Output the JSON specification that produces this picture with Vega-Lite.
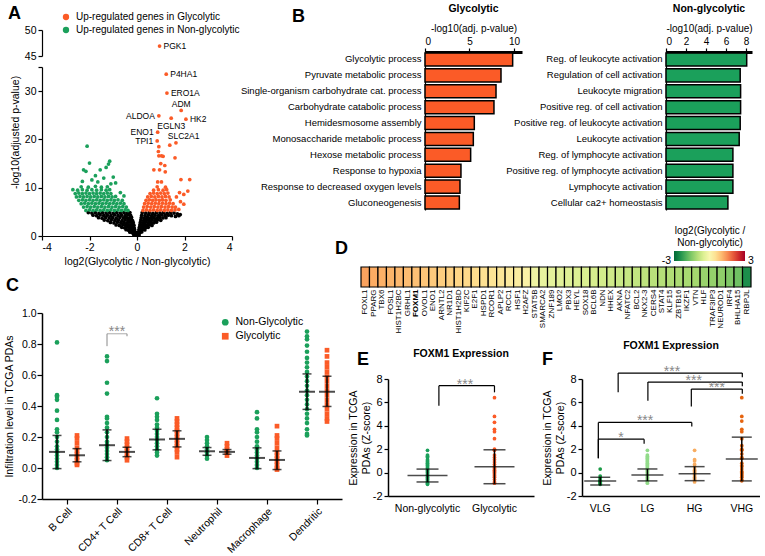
{
"$schema": "https://vega.github.io/schema/vega-lite/v6.json",
"padding": {"left": 4, "top": 3, "right": 0, "bottom": 0},
"config": {
  "view": {"stroke": null},
  "font": "Liberation Sans",
  "axis": {"grid": false, "domainColor": "black", "tickColor": "black", "labelColor": "black", "titleColor": "black", "labelFontSize": 10, "titleFontSize": 10, "titleFontWeight": "normal", "tickSize": 4, "labelPadding": 2, "domainWidth": 1.2, "tickWidth": 1.2, "labelOverlap": false, "labelLimit": 400},
  "legend": {"labelFontSize": 10, "labelColor": "black", "titleColor": "black", "labelLimit": 400},
  "title": {"color": "black"}
},
"datasets": {
  "volc": [
{"fc":-2.05,"lp":4.85,"g":"B"},{"fc":-1.9,"lp":4.75,"g":"B"},{"fc":-1.75,"lp":4.85,"g":"B"},{"fc":-1.6,"lp":4.7,"g":"B"},{"fc":-1.45,"lp":4.85,"g":"B"},{"fc":-1.3,"lp":4.75,"g":"B"},{"fc":-1.15,"lp":4.85,"g":"B"},{"fc":-1.0,"lp":4.7,"g":"B"},{"fc":-0.85,"lp":4.85,"g":"B"},{"fc":-0.7,"lp":4.75,"g":"B"},{"fc":-0.55,"lp":4.85,"g":"B"},{"fc":-0.42,"lp":4.7,"g":"B"},{"fc":-0.3,"lp":4.85,"g":"B"},
{"fc":-1.85,"lp":4.3,"g":"B"},{"fc":-1.7,"lp":4.2,"g":"B"},{"fc":-1.55,"lp":4.35,"g":"B"},{"fc":-1.4,"lp":4.25,"g":"B"},{"fc":-1.25,"lp":4.3,"g":"B"},{"fc":-1.1,"lp":4.2,"g":"B"},{"fc":-0.95,"lp":4.35,"g":"B"},{"fc":-0.8,"lp":4.25,"g":"B"},{"fc":-0.65,"lp":4.3,"g":"B"},{"fc":-0.5,"lp":4.2,"g":"B"},{"fc":-0.38,"lp":4.35,"g":"B"},{"fc":-0.27,"lp":4.25,"g":"B"},
{"fc":-1.62,"lp":3.8,"g":"B"},{"fc":-1.47,"lp":3.7,"g":"B"},{"fc":-1.32,"lp":3.85,"g":"B"},{"fc":-1.17,"lp":3.75,"g":"B"},{"fc":-1.02,"lp":3.8,"g":"B"},{"fc":-0.87,"lp":3.7,"g":"B"},{"fc":-0.72,"lp":3.85,"g":"B"},{"fc":-0.57,"lp":3.75,"g":"B"},{"fc":-0.44,"lp":3.8,"g":"B"},{"fc":-0.32,"lp":3.7,"g":"B"},{"fc":-0.23,"lp":3.85,"g":"B"},
{"fc":-1.38,"lp":3.3,"g":"B"},{"fc":-1.23,"lp":3.2,"g":"B"},{"fc":-1.08,"lp":3.35,"g":"B"},{"fc":-0.93,"lp":3.25,"g":"B"},{"fc":-0.78,"lp":3.3,"g":"B"},{"fc":-0.63,"lp":3.2,"g":"B"},{"fc":-0.5,"lp":3.35,"g":"B"},{"fc":-0.38,"lp":3.25,"g":"B"},{"fc":-0.27,"lp":3.3,"g":"B"},{"fc":-0.19,"lp":3.2,"g":"B"},
{"fc":-1.12,"lp":2.8,"g":"B"},{"fc":-0.97,"lp":2.7,"g":"B"},{"fc":-0.82,"lp":2.85,"g":"B"},{"fc":-0.68,"lp":2.75,"g":"B"},{"fc":-0.55,"lp":2.8,"g":"B"},{"fc":-0.43,"lp":2.7,"g":"B"},{"fc":-0.32,"lp":2.85,"g":"B"},{"fc":-0.22,"lp":2.75,"g":"B"},{"fc":-0.16,"lp":2.8,"g":"B"},
{"fc":-0.88,"lp":2.3,"g":"B"},{"fc":-0.74,"lp":2.2,"g":"B"},{"fc":-0.6,"lp":2.35,"g":"B"},{"fc":-0.48,"lp":2.25,"g":"B"},{"fc":-0.37,"lp":2.3,"g":"B"},{"fc":-0.27,"lp":2.2,"g":"B"},{"fc":-0.18,"lp":2.35,"g":"B"},{"fc":-0.13,"lp":2.25,"g":"B"},
{"fc":-0.64,"lp":1.8,"g":"B"},{"fc":-0.52,"lp":1.7,"g":"B"},{"fc":-0.41,"lp":1.85,"g":"B"},{"fc":-0.31,"lp":1.75,"g":"B"},{"fc":-0.22,"lp":1.8,"g":"B"},{"fc":-0.12,"lp":1.7,"g":"B"},
{"fc":-0.46,"lp":1.3,"g":"B"},{"fc":-0.36,"lp":1.2,"g":"B"},{"fc":-0.27,"lp":1.35,"g":"B"},{"fc":-0.18,"lp":1.25,"g":"B"},{"fc":-0.1,"lp":1.3,"g":"B"},
{"fc":-0.3,"lp":0.8,"g":"B"},{"fc":-0.21,"lp":0.7,"g":"B"},{"fc":-0.13,"lp":0.85,"g":"B"},{"fc":-0.06,"lp":0.75,"g":"B"},
{"fc":-0.14,"lp":0.3,"g":"B"},{"fc":-0.07,"lp":0.2,"g":"B"},{"fc":-0.02,"lp":0.35,"g":"B"},
{"fc":0.22,"lp":4.85,"g":"B"},{"fc":0.37,"lp":4.75,"g":"B"},{"fc":0.52,"lp":4.85,"g":"B"},{"fc":0.67,"lp":4.7,"g":"B"},{"fc":0.82,"lp":4.85,"g":"B"},{"fc":0.97,"lp":4.75,"g":"B"},{"fc":1.12,"lp":4.85,"g":"B"},{"fc":1.27,"lp":4.7,"g":"B"},{"fc":1.42,"lp":4.85,"g":"B"},{"fc":1.56,"lp":4.75,"g":"B"},{"fc":1.7,"lp":4.6,"g":"B"},{"fc":1.82,"lp":4.45,"g":"B"},
{"fc":0.2,"lp":4.3,"g":"B"},{"fc":0.34,"lp":4.2,"g":"B"},{"fc":0.48,"lp":4.35,"g":"B"},{"fc":0.62,"lp":4.25,"g":"B"},{"fc":0.76,"lp":4.3,"g":"B"},{"fc":0.9,"lp":4.2,"g":"B"},{"fc":1.04,"lp":4.35,"g":"B"},{"fc":1.18,"lp":4.25,"g":"B"},{"fc":1.32,"lp":4.3,"g":"B"},{"fc":1.45,"lp":4.2,"g":"B"},{"fc":1.62,"lp":4.05,"g":"B"},{"fc":1.76,"lp":4.2,"g":"B"},
{"fc":0.18,"lp":3.8,"g":"B"},{"fc":0.31,"lp":3.7,"g":"B"},{"fc":0.44,"lp":3.85,"g":"B"},{"fc":0.57,"lp":3.75,"g":"B"},{"fc":0.7,"lp":3.8,"g":"B"},{"fc":0.83,"lp":3.7,"g":"B"},{"fc":0.96,"lp":3.85,"g":"B"},{"fc":1.09,"lp":3.75,"g":"B"},{"fc":1.22,"lp":3.8,"g":"B"},
{"fc":0.16,"lp":3.3,"g":"B"},{"fc":0.28,"lp":3.2,"g":"B"},{"fc":0.4,"lp":3.35,"g":"B"},{"fc":0.52,"lp":3.25,"g":"B"},{"fc":0.64,"lp":3.3,"g":"B"},{"fc":0.76,"lp":3.2,"g":"B"},{"fc":0.88,"lp":3.35,"g":"B"},{"fc":1.0,"lp":3.25,"g":"B"},
{"fc":0.14,"lp":2.8,"g":"B"},{"fc":0.25,"lp":2.7,"g":"B"},{"fc":0.36,"lp":2.85,"g":"B"},{"fc":0.47,"lp":2.75,"g":"B"},{"fc":0.58,"lp":2.8,"g":"B"},{"fc":0.7,"lp":2.7,"g":"B"},{"fc":0.82,"lp":2.85,"g":"B"},
{"fc":0.12,"lp":2.3,"g":"B"},{"fc":0.22,"lp":2.2,"g":"B"},{"fc":0.32,"lp":2.35,"g":"B"},{"fc":0.42,"lp":2.25,"g":"B"},{"fc":0.52,"lp":2.3,"g":"B"},{"fc":0.63,"lp":2.2,"g":"B"},
{"fc":0.1,"lp":1.8,"g":"B"},{"fc":0.19,"lp":1.7,"g":"B"},{"fc":0.28,"lp":1.85,"g":"B"},{"fc":0.37,"lp":1.75,"g":"B"},{"fc":0.47,"lp":1.8,"g":"B"},
{"fc":0.08,"lp":1.3,"g":"B"},{"fc":0.16,"lp":1.2,"g":"B"},{"fc":0.24,"lp":1.35,"g":"B"},{"fc":0.33,"lp":1.25,"g":"B"},
{"fc":0.06,"lp":0.8,"g":"B"},{"fc":0.13,"lp":0.7,"g":"B"},{"fc":0.2,"lp":0.85,"g":"B"},
{"fc":0.04,"lp":0.3,"g":"B"},{"fc":0.09,"lp":0.2,"g":"B"},
{"fc":-2.15,"lp":5.3,"g":"N"},{"fc":-2.0,"lp":5.4,"g":"N"},{"fc":-1.85,"lp":5.3,"g":"N"},{"fc":-1.7,"lp":5.4,"g":"N"},{"fc":-1.55,"lp":5.3,"g":"N"},{"fc":-1.4,"lp":5.4,"g":"N"},{"fc":-1.25,"lp":5.3,"g":"N"},{"fc":-1.1,"lp":5.4,"g":"N"},{"fc":-0.95,"lp":5.3,"g":"N"},{"fc":-0.8,"lp":5.4,"g":"N"},{"fc":-0.65,"lp":5.3,"g":"N"},{"fc":-0.5,"lp":5.4,"g":"N"},{"fc":-0.38,"lp":5.3,"g":"N"},
{"fc":-2.25,"lp":6.0,"g":"N"},{"fc":-2.1,"lp":6.1,"g":"N"},{"fc":-1.95,"lp":6.0,"g":"N"},{"fc":-1.8,"lp":6.1,"g":"N"},{"fc":-1.65,"lp":6.0,"g":"N"},{"fc":-1.5,"lp":6.1,"g":"N"},{"fc":-1.35,"lp":6.0,"g":"N"},{"fc":-1.2,"lp":6.1,"g":"N"},{"fc":-1.05,"lp":6.0,"g":"N"},{"fc":-0.9,"lp":6.1,"g":"N"},{"fc":-0.75,"lp":6.0,"g":"N"},{"fc":-0.6,"lp":6.1,"g":"N"},{"fc":-0.45,"lp":6.0,"g":"N"},
{"fc":-2.35,"lp":6.7,"g":"N"},{"fc":-2.2,"lp":6.8,"g":"N"},{"fc":-2.05,"lp":6.7,"g":"N"},{"fc":-1.9,"lp":6.8,"g":"N"},{"fc":-1.75,"lp":6.7,"g":"N"},{"fc":-1.6,"lp":6.8,"g":"N"},{"fc":-1.45,"lp":6.7,"g":"N"},{"fc":-1.3,"lp":6.8,"g":"N"},{"fc":-1.15,"lp":6.7,"g":"N"},{"fc":-1.0,"lp":6.8,"g":"N"},{"fc":-0.85,"lp":6.7,"g":"N"},{"fc":-0.7,"lp":6.8,"g":"N"},{"fc":-0.55,"lp":6.7,"g":"N"},
{"fc":-2.45,"lp":7.4,"g":"N"},{"fc":-2.3,"lp":7.5,"g":"N"},{"fc":-2.15,"lp":7.4,"g":"N"},{"fc":-2.0,"lp":7.5,"g":"N"},{"fc":-1.85,"lp":7.4,"g":"N"},{"fc":-1.7,"lp":7.5,"g":"N"},{"fc":-1.55,"lp":7.4,"g":"N"},{"fc":-1.4,"lp":7.5,"g":"N"},{"fc":-1.25,"lp":7.4,"g":"N"},{"fc":-1.1,"lp":7.5,"g":"N"},{"fc":-0.95,"lp":7.4,"g":"N"},{"fc":-0.8,"lp":7.5,"g":"N"},{"fc":-0.62,"lp":7.4,"g":"N"},
{"fc":-2.55,"lp":8.1,"g":"N"},{"fc":-2.4,"lp":8.2,"g":"N"},{"fc":-2.25,"lp":8.1,"g":"N"},{"fc":-2.1,"lp":8.2,"g":"N"},{"fc":-1.95,"lp":8.1,"g":"N"},{"fc":-1.8,"lp":8.2,"g":"N"},{"fc":-1.65,"lp":8.1,"g":"N"},{"fc":-1.5,"lp":8.2,"g":"N"},{"fc":-1.35,"lp":8.1,"g":"N"},{"fc":-1.2,"lp":8.2,"g":"N"},{"fc":-1.05,"lp":8.1,"g":"N"},{"fc":-0.9,"lp":8.2,"g":"N"},
{"fc":-2.6,"lp":8.8,"g":"N"},{"fc":-2.45,"lp":8.9,"g":"N"},{"fc":-2.3,"lp":8.8,"g":"N"},{"fc":-2.15,"lp":8.9,"g":"N"},{"fc":-2.0,"lp":8.8,"g":"N"},{"fc":-1.85,"lp":8.9,"g":"N"},{"fc":-1.7,"lp":8.8,"g":"N"},{"fc":-1.55,"lp":8.9,"g":"N"},{"fc":-1.4,"lp":8.8,"g":"N"},{"fc":-1.25,"lp":8.9,"g":"N"},{"fc":-1.1,"lp":8.8,"g":"N"},
{"fc":-2.7,"lp":9.6,"g":"N"},{"fc":-2.5,"lp":9.5,"g":"N"},{"fc":-2.3,"lp":9.6,"g":"N"},{"fc":-2.1,"lp":9.5,"g":"N"},{"fc":-1.9,"lp":9.6,"g":"N"},{"fc":-1.7,"lp":9.5,"g":"N"},{"fc":-1.5,"lp":9.6,"g":"N"},{"fc":-1.3,"lp":9.5,"g":"N"},{"fc":-1.15,"lp":9.6,"g":"N"},
{"fc":-2.35,"lp":10.2,"g":"N"},{"fc":-2.05,"lp":10.1,"g":"N"},{"fc":-1.75,"lp":10.3,"g":"N"},{"fc":-1.5,"lp":10.1,"g":"N"},{"fc":-1.25,"lp":10.2,"g":"N"},
{"fc":-2.1,"lp":18.6,"g":"N"},{"fc":-2.0,"lp":15.1,"g":"N"},{"fc":-2.25,"lp":13.7,"g":"N"},{"fc":-2.15,"lp":13.4,"g":"N"},{"fc":-1.75,"lp":12.5,"g":"N"},{"fc":-1.55,"lp":13.7,"g":"N"},{"fc":-1.3,"lp":14.2,"g":"N"},{"fc":-1.15,"lp":15.5,"g":"N"},{"fc":-1.2,"lp":14.9,"g":"N"},{"fc":-1.4,"lp":12.0,"g":"N"},{"fc":-1.65,"lp":11.2,"g":"N"},{"fc":-1.9,"lp":11.6,"g":"N"},{"fc":-2.3,"lp":11.3,"g":"N"},{"fc":-1.0,"lp":12.2,"g":"N"},{"fc":-0.9,"lp":11.0,"g":"N"},{"fc":-1.1,"lp":10.8,"g":"N"},{"fc":-0.7,"lp":9.0,"g":"N"},{"fc":-0.55,"lp":8.3,"g":"N"},
{"fc":0.25,"lp":5.3,"g":"G"},{"fc":0.4,"lp":5.4,"g":"G"},{"fc":0.55,"lp":5.3,"g":"G"},{"fc":0.7,"lp":5.4,"g":"G"},{"fc":0.85,"lp":5.3,"g":"G"},{"fc":1.0,"lp":5.4,"g":"G"},{"fc":1.15,"lp":5.3,"g":"G"},{"fc":1.3,"lp":5.4,"g":"G"},{"fc":1.45,"lp":5.3,"g":"G"},{"fc":1.6,"lp":5.4,"g":"G"},
{"fc":0.28,"lp":6.0,"g":"G"},{"fc":0.43,"lp":6.1,"g":"G"},{"fc":0.58,"lp":6.0,"g":"G"},{"fc":0.73,"lp":6.1,"g":"G"},{"fc":0.88,"lp":6.0,"g":"G"},{"fc":1.03,"lp":6.1,"g":"G"},{"fc":1.18,"lp":6.0,"g":"G"},{"fc":1.33,"lp":6.1,"g":"G"},{"fc":1.48,"lp":6.0,"g":"G"},
{"fc":0.32,"lp":6.7,"g":"G"},{"fc":0.47,"lp":6.8,"g":"G"},{"fc":0.62,"lp":6.7,"g":"G"},{"fc":0.77,"lp":6.8,"g":"G"},{"fc":0.92,"lp":6.7,"g":"G"},{"fc":1.07,"lp":6.8,"g":"G"},{"fc":1.22,"lp":6.7,"g":"G"},{"fc":1.37,"lp":6.8,"g":"G"},{"fc":1.52,"lp":6.7,"g":"G"},
{"fc":0.38,"lp":7.4,"g":"G"},{"fc":0.52,"lp":7.5,"g":"G"},{"fc":0.66,"lp":7.4,"g":"G"},{"fc":0.8,"lp":7.5,"g":"G"},{"fc":0.94,"lp":7.4,"g":"G"},{"fc":1.08,"lp":7.5,"g":"G"},{"fc":1.22,"lp":7.4,"g":"G"},{"fc":1.4,"lp":7.5,"g":"G"},
{"fc":0.45,"lp":8.1,"g":"G"},{"fc":0.6,"lp":8.2,"g":"G"},{"fc":0.75,"lp":8.1,"g":"G"},{"fc":0.9,"lp":8.2,"g":"G"},{"fc":1.05,"lp":8.1,"g":"G"},{"fc":1.2,"lp":8.2,"g":"G"},{"fc":1.35,"lp":8.1,"g":"G"},
{"fc":0.55,"lp":8.8,"g":"G"},{"fc":0.7,"lp":8.9,"g":"G"},{"fc":0.85,"lp":8.8,"g":"G"},{"fc":1.0,"lp":8.9,"g":"G"},{"fc":1.15,"lp":8.8,"g":"G"},{"fc":1.3,"lp":8.9,"g":"G"},
{"fc":0.7,"lp":9.5,"g":"G"},{"fc":0.9,"lp":9.6,"g":"G"},{"fc":1.1,"lp":9.5,"g":"G"},{"fc":1.25,"lp":9.6,"g":"G"},
{"fc":0.85,"lp":10.2,"g":"G"},{"fc":1.2,"lp":10.1,"g":"G"},
{"fc":0.92,"lp":18.5,"g":"G"},{"fc":0.9,"lp":17.5,"g":"G"},{"fc":0.92,"lp":16.6,"g":"G"},{"fc":1.03,"lp":16.6,"g":"G"},{"fc":1.1,"lp":16.5,"g":"G"},{"fc":1.0,"lp":15.0,"g":"G"},{"fc":1.17,"lp":14.6,"g":"G"},{"fc":1.6,"lp":16.2,"g":"G"},{"fc":0.71,"lp":13.7,"g":"G"},{"fc":0.95,"lp":13.7,"g":"G"},{"fc":1.19,"lp":13.3,"g":"G"},{"fc":0.87,"lp":11.2,"g":"G"},{"fc":1.03,"lp":11.2,"g":"G"},{"fc":1.85,"lp":11.7,"g":"G"},{"fc":2.22,"lp":11.7,"g":"G"},{"fc":2.14,"lp":9.3,"g":"G"},{"fc":1.79,"lp":9.0,"g":"G"},{"fc":1.97,"lp":8.6,"g":"G"},{"fc":1.66,"lp":8.1,"g":"G"},{"fc":1.83,"lp":7.1,"g":"G"},{"fc":1.97,"lp":6.6,"g":"G"},{"fc":1.62,"lp":6.0,"g":"G"},{"fc":1.76,"lp":5.5,"g":"G"},
{"fc":0.95,"lp":46.9,"g":"G"},{"fc":1.23,"lp":33.5,"g":"G"},{"fc":1.26,"lp":29.6,"g":"G"},{"fc":1.86,"lp":26.0,"g":"G"},{"fc":0.92,"lp":24.9,"g":"G"},{"fc":1.44,"lp":24.4,"g":"G"},{"fc":2.06,"lp":24.2,"g":"G"},{"fc":0.87,"lp":21.5,"g":"G"},{"fc":0.85,"lp":19.7,"g":"G"},{"fc":1.38,"lp":18.8,"g":"G"},{"fc":1.64,"lp":19.3,"g":"G"}
  ],
  "genes": [
{"gene":"PGK1","fc":0.95,"lp":46.9},{"gene":"P4HA1","fc":1.23,"lp":33.5},{"gene":"ERO1A","fc":1.26,"lp":29.6},{"gene":"ADM","fc":1.86,"lp":26.0},{"gene":"ALDOA","fc":0.92,"lp":24.9},{"gene":"EGLN3","fc":1.44,"lp":24.4},{"gene":"HK2","fc":2.06,"lp":24.2},{"gene":"ENO1","fc":0.87,"lp":21.5},{"gene":"TPI1","fc":0.85,"lp":19.7},{"gene":"SLC2A1","fc":1.38,"lp":18.8}
  ],
  "goG": [
{"term":"Glycolytic process","v":9.85},{"term":"Pyruvate metabolic process","v":8.54},{"term":"Single-organism carbohydrate cat. process","v":7.98},{"term":"Carbohydrate catabolic process","v":7.75},{"term":"Hemidesmosome assembly","v":5.54},{"term":"Monosaccharide metabolic process","v":5.43},{"term":"Hexose metabolic process","v":5.13},{"term":"Response to hypoxia","v":4.04},{"term":"Response to decreased oxygen levels","v":3.93},{"term":"Gluconeogenesis","v":3.86}
  ],
  "goN": [
{"term":"Reg. of leukocyte activation","v":8.07},{"term":"Regulation of cell activation","v":7.42},{"term":"Leukocyte migration","v":7.46},{"term":"Positive reg. of cell activation","v":7.46},{"term":"Positive reg. of leukocyte activation","v":7.42},{"term":"Leukocyte activation","v":7.32},{"term":"Reg. of lymphocyte activation","v":6.69},{"term":"Positive reg. of lymphocyte activation","v":6.69},{"term":"Lymphocyte activation","v":6.69},{"term":"Cellular ca2+ homeostasis","v":6.19}
  ],
  "heat": [
{"gene":"FOXL1","v":1.3},{"gene":"PPARG","v":1.2},{"gene":"TBX6","v":1.15},{"gene":"FOSL1","v":1.1},{"gene":"HIST1H2BC","v":1.05},{"gene":"GRHL1","v":1.0},{"gene":"FOXM1","v":0.95},{"gene":"OVOL1","v":0.9},{"gene":"ENO1","v":0.85},{"gene":"ARNTL2","v":0.8},{"gene":"NR1D1","v":0.75},{"gene":"HIST1H2BD","v":0.7},{"gene":"KIF2C","v":0.65},{"gene":"E2F1","v":0.6},{"gene":"HSPD1","v":0.5},{"gene":"RCOR1","v":0.45},{"gene":"APLP2","v":0.4},{"gene":"RCC1","v":0.3},{"gene":"HSF1","v":0.25},{"gene":"H2AFZ","v":0.15},{"gene":"STAT5B","v":-0.2},{"gene":"SMARCA2","v":-0.3},{"gene":"ZNF189","v":-0.35},{"gene":"LMO2","v":-0.4},{"gene":"PBX3","v":-0.45},{"gene":"HEYL","v":-0.5},{"gene":"SOX18","v":-0.55},{"gene":"BCL6B","v":-0.6},{"gene":"NDN","v":-0.65},{"gene":"HHEX","v":-0.7},{"gene":"AKNA","v":-0.75},{"gene":"NFATC2","v":-0.8},{"gene":"BCL2","v":-0.85},{"gene":"NKX2-3","v":-0.9},{"gene":"CERS4","v":-0.95},{"gene":"STAT4","v":-1.0},{"gene":"KLF15","v":-1.05},{"gene":"ZBTB16","v":-1.1},{"gene":"IKZF1","v":-1.15},{"gene":"VTN","v":-1.2},{"gene":"HLF","v":-1.3},{"gene":"TRAF3IP3","v":-1.35},{"gene":"NEUROD1","v":-1.4},{"gene":"IRF4","v":-1.55},{"gene":"BHLHA15","v":-1.7},{"gene":"RBPJL","v":-2.5}
  ],
  "infil": [
{"c":"B Cell","g":"N","v":0.81},{"c":"B Cell","g":"N","v":0.47},{"c":"B Cell","g":"N","v":0.46},{"c":"B Cell","g":"N","v":0.44},{"c":"B Cell","g":"N","v":0.37},{"c":"B Cell","g":"N","v":0.31},{"c":"B Cell","g":"N","v":0.25},{"c":"B Cell","g":"N","v":0.23},{"c":"B Cell","g":"N","v":0.2},{"c":"B Cell","g":"N","v":0.17},{"c":"B Cell","g":"N","v":0.14},{"c":"B Cell","g":"N","v":0.12},{"c":"B Cell","g":"N","v":0.1},{"c":"B Cell","g":"N","v":0.08},{"c":"B Cell","g":"N","v":0.06},{"c":"B Cell","g":"N","v":0.04},{"c":"B Cell","g":"N","v":0.02},{"c":"B Cell","g":"N","v":0.0},
{"c":"B Cell","g":"G","v":0.21},{"c":"B Cell","g":"G","v":0.19},{"c":"B Cell","g":"G","v":0.16},{"c":"B Cell","g":"G","v":0.13},{"c":"B Cell","g":"G","v":0.11},{"c":"B Cell","g":"G","v":0.09},{"c":"B Cell","g":"G","v":0.07},{"c":"B Cell","g":"G","v":0.05},{"c":"B Cell","g":"G","v":0.03},{"c":"B Cell","g":"G","v":0.02},
{"c":"CD4+ T Cell","g":"N","v":0.72},{"c":"CD4+ T Cell","g":"N","v":0.69},{"c":"CD4+ T Cell","g":"N","v":0.55},{"c":"CD4+ T Cell","g":"N","v":0.48},{"c":"CD4+ T Cell","g":"N","v":0.33},{"c":"CD4+ T Cell","g":"N","v":0.32},{"c":"CD4+ T Cell","g":"N","v":0.29},{"c":"CD4+ T Cell","g":"N","v":0.26},{"c":"CD4+ T Cell","g":"N","v":0.23},{"c":"CD4+ T Cell","g":"N","v":0.2},{"c":"CD4+ T Cell","g":"N","v":0.17},{"c":"CD4+ T Cell","g":"N","v":0.15},{"c":"CD4+ T Cell","g":"N","v":0.13},{"c":"CD4+ T Cell","g":"N","v":0.11},{"c":"CD4+ T Cell","g":"N","v":0.09},{"c":"CD4+ T Cell","g":"N","v":0.07},{"c":"CD4+ T Cell","g":"N","v":0.05},
{"c":"CD4+ T Cell","g":"G","v":0.19},{"c":"CD4+ T Cell","g":"G","v":0.17},{"c":"CD4+ T Cell","g":"G","v":0.15},{"c":"CD4+ T Cell","g":"G","v":0.13},{"c":"CD4+ T Cell","g":"G","v":0.11},{"c":"CD4+ T Cell","g":"G","v":0.09},{"c":"CD4+ T Cell","g":"G","v":0.07},{"c":"CD4+ T Cell","g":"G","v":0.05},
{"c":"CD8+ T Cell","g":"N","v":0.45},{"c":"CD8+ T Cell","g":"N","v":0.35},{"c":"CD8+ T Cell","g":"N","v":0.33},{"c":"CD8+ T Cell","g":"N","v":0.31},{"c":"CD8+ T Cell","g":"N","v":0.28},{"c":"CD8+ T Cell","g":"N","v":0.26},{"c":"CD8+ T Cell","g":"N","v":0.24},{"c":"CD8+ T Cell","g":"N","v":0.22},{"c":"CD8+ T Cell","g":"N","v":0.2},{"c":"CD8+ T Cell","g":"N","v":0.18},{"c":"CD8+ T Cell","g":"N","v":0.16},{"c":"CD8+ T Cell","g":"N","v":0.14},{"c":"CD8+ T Cell","g":"N","v":0.12},{"c":"CD8+ T Cell","g":"N","v":0.1},{"c":"CD8+ T Cell","g":"N","v":0.08},
{"c":"CD8+ T Cell","g":"G","v":0.32},{"c":"CD8+ T Cell","g":"G","v":0.3},{"c":"CD8+ T Cell","g":"G","v":0.28},{"c":"CD8+ T Cell","g":"G","v":0.26},{"c":"CD8+ T Cell","g":"G","v":0.24},{"c":"CD8+ T Cell","g":"G","v":0.22},{"c":"CD8+ T Cell","g":"G","v":0.2},{"c":"CD8+ T Cell","g":"G","v":0.18},{"c":"CD8+ T Cell","g":"G","v":0.16},{"c":"CD8+ T Cell","g":"G","v":0.14},{"c":"CD8+ T Cell","g":"G","v":0.12},{"c":"CD8+ T Cell","g":"G","v":0.1},{"c":"CD8+ T Cell","g":"G","v":0.07},
{"c":"Neutrophil","g":"N","v":0.2},{"c":"Neutrophil","g":"N","v":0.18},{"c":"Neutrophil","g":"N","v":0.16},{"c":"Neutrophil","g":"N","v":0.14},{"c":"Neutrophil","g":"N","v":0.12},{"c":"Neutrophil","g":"N","v":0.1},{"c":"Neutrophil","g":"N","v":0.08},{"c":"Neutrophil","g":"N","v":0.06},
{"c":"Neutrophil","g":"G","v":0.16},{"c":"Neutrophil","g":"G","v":0.14},{"c":"Neutrophil","g":"G","v":0.12},{"c":"Neutrophil","g":"G","v":0.1},{"c":"Neutrophil","g":"G","v":0.08},
{"c":"Macrophage","g":"N","v":0.36},{"c":"Macrophage","g":"N","v":0.32},{"c":"Macrophage","g":"N","v":0.25},{"c":"Macrophage","g":"N","v":0.23},{"c":"Macrophage","g":"N","v":0.2},{"c":"Macrophage","g":"N","v":0.17},{"c":"Macrophage","g":"N","v":0.14},{"c":"Macrophage","g":"N","v":0.12},{"c":"Macrophage","g":"N","v":0.1},{"c":"Macrophage","g":"N","v":0.08},{"c":"Macrophage","g":"N","v":0.06},{"c":"Macrophage","g":"N","v":0.04},{"c":"Macrophage","g":"N","v":0.02},{"c":"Macrophage","g":"N","v":0.0},
{"c":"Macrophage","g":"G","v":0.27},{"c":"Macrophage","g":"G","v":0.21},{"c":"Macrophage","g":"G","v":0.19},{"c":"Macrophage","g":"G","v":0.16},{"c":"Macrophage","g":"G","v":0.13},{"c":"Macrophage","g":"G","v":0.1},{"c":"Macrophage","g":"G","v":0.08},{"c":"Macrophage","g":"G","v":0.06},{"c":"Macrophage","g":"G","v":0.04},{"c":"Macrophage","g":"G","v":0.02},{"c":"Macrophage","g":"G","v":0.0},{"c":"Macrophage","g":"G","v":-0.01},
{"c":"Dendritic","g":"N","v":0.88},{"c":"Dendritic","g":"N","v":0.85},{"c":"Dendritic","g":"N","v":0.83},{"c":"Dendritic","g":"N","v":0.79},{"c":"Dendritic","g":"N","v":0.75},{"c":"Dendritic","g":"N","v":0.71},{"c":"Dendritic","g":"N","v":0.68},{"c":"Dendritic","g":"N","v":0.65},{"c":"Dendritic","g":"N","v":0.62},{"c":"Dendritic","g":"N","v":0.59},{"c":"Dendritic","g":"N","v":0.56},{"c":"Dendritic","g":"N","v":0.53},{"c":"Dendritic","g":"N","v":0.5},{"c":"Dendritic","g":"N","v":0.47},{"c":"Dendritic","g":"N","v":0.44},{"c":"Dendritic","g":"N","v":0.41},{"c":"Dendritic","g":"N","v":0.38},{"c":"Dendritic","g":"N","v":0.35},{"c":"Dendritic","g":"N","v":0.32},{"c":"Dendritic","g":"N","v":0.29},{"c":"Dendritic","g":"N","v":0.25},{"c":"Dendritic","g":"N","v":0.22},{"c":"Dendritic","g":"N","v":0.21},
{"c":"Dendritic","g":"G","v":0.76},{"c":"Dendritic","g":"G","v":0.72},{"c":"Dendritic","g":"G","v":0.68},{"c":"Dendritic","g":"G","v":0.65},{"c":"Dendritic","g":"G","v":0.62},{"c":"Dendritic","g":"G","v":0.59},{"c":"Dendritic","g":"G","v":0.56},{"c":"Dendritic","g":"G","v":0.53},{"c":"Dendritic","g":"G","v":0.5},{"c":"Dendritic","g":"G","v":0.47},{"c":"Dendritic","g":"G","v":0.44},{"c":"Dendritic","g":"G","v":0.41},{"c":"Dendritic","g":"G","v":0.38},{"c":"Dendritic","g":"G","v":0.35},{"c":"Dendritic","g":"G","v":0.32},{"c":"Dendritic","g":"G","v":0.3}
  ],
  "infilStat": [
{"c":"B Cell","g":"N","m":0.104,"lo":-0.004,"hi":0.21},{"c":"B Cell","g":"G","m":0.082,"lo":0.04,"hi":0.125},
{"c":"CD4+ T Cell","g":"N","m":0.147,"lo":0.048,"hi":0.246},{"c":"CD4+ T Cell","g":"G","m":0.104,"lo":0.073,"hi":0.134},
{"c":"CD8+ T Cell","g":"N","m":0.184,"lo":0.117,"hi":0.25},{"c":"CD8+ T Cell","g":"G","m":0.188,"lo":0.136,"hi":0.24},
{"c":"Neutrophil","g":"N","m":0.108,"lo":0.082,"hi":0.132},{"c":"Neutrophil","g":"G","m":0.104,"lo":0.089,"hi":0.119},
{"c":"Macrophage","g":"N","m":0.065,"lo":-0.004,"hi":0.13},{"c":"Macrophage","g":"G","m":0.052,"lo":-0.01,"hi":0.11},
{"c":"Dendritic","g":"N","m":0.492,"lo":0.378,"hi":0.607},{"c":"Dendritic","g":"G","m":0.492,"lo":0.397,"hi":0.592}
  ],
  "infilBr": [
{"c":"CD4+ T Cell","g":"N","t":0.866,"b":0.786},{"c":"CD4+ T Cell","g":"G","t":0.866,"b":0.85}
  ],
  "foxE": [
{"grp":"Non-glycolytic","v":1.9},{"grp":"Non-glycolytic","v":1.5},{"grp":"Non-glycolytic","v":1.4},{"grp":"Non-glycolytic","v":1.3},{"grp":"Non-glycolytic","v":1.1},{"grp":"Non-glycolytic","v":1.0},{"grp":"Non-glycolytic","v":0.9},{"grp":"Non-glycolytic","v":0.8},{"grp":"Non-glycolytic","v":0.7},{"grp":"Non-glycolytic","v":0.6},{"grp":"Non-glycolytic","v":0.5},{"grp":"Non-glycolytic","v":0.4},{"grp":"Non-glycolytic","v":0.3},{"grp":"Non-glycolytic","v":0.2},{"grp":"Non-glycolytic","v":0.1},{"grp":"Non-glycolytic","v":0.0},{"grp":"Non-glycolytic","v":-0.1},{"grp":"Non-glycolytic","v":-0.2},{"grp":"Non-glycolytic","v":-0.3},{"grp":"Non-glycolytic","v":-0.4},{"grp":"Non-glycolytic","v":-0.5},{"grp":"Non-glycolytic","v":-0.6},{"grp":"Non-glycolytic","v":-0.7},{"grp":"Non-glycolytic","v":-0.8},{"grp":"Non-glycolytic","v":-0.9},{"grp":"Non-glycolytic","v":-1.0},
{"grp":"Glycolytic","v":6.4},{"grp":"Glycolytic","v":4.8},{"grp":"Glycolytic","v":4.3},{"grp":"Glycolytic","v":3.7},{"grp":"Glycolytic","v":3.5},{"grp":"Glycolytic","v":2.9},{"grp":"Glycolytic","v":2.0},{"grp":"Glycolytic","v":1.9},{"grp":"Glycolytic","v":1.5},{"grp":"Glycolytic","v":1.3},{"grp":"Glycolytic","v":1.1},{"grp":"Glycolytic","v":0.9},{"grp":"Glycolytic","v":0.7},{"grp":"Glycolytic","v":0.5},{"grp":"Glycolytic","v":0.4},{"grp":"Glycolytic","v":0.3},{"grp":"Glycolytic","v":0.2},{"grp":"Glycolytic","v":0.1},{"grp":"Glycolytic","v":0.0},{"grp":"Glycolytic","v":-0.1},{"grp":"Glycolytic","v":-0.2},{"grp":"Glycolytic","v":-0.3},{"grp":"Glycolytic","v":-0.4},{"grp":"Glycolytic","v":-0.6},{"grp":"Glycolytic","v":-0.8},{"grp":"Glycolytic","v":-0.9}
  ],
  "foxEStat": [
{"grp":"Non-glycolytic","m":-0.25,"lo":-0.8,"hi":0.3},{"grp":"Glycolytic","m":0.5,"lo":-0.95,"hi":1.95}
  ],
  "foxEBr": [
{"a":0.17,"b":1.0,"t":7.43,"la":5.71,"lb":6.86,"mid":0.56,"s":"***"}
  ],
  "foxF": [
{"grp":"VLG","v":0.3},{"grp":"VLG","v":-0.3},{"grp":"VLG","v":-0.45},{"grp":"VLG","v":-0.55},{"grp":"VLG","v":-0.65},{"grp":"VLG","v":-0.7},{"grp":"VLG","v":-0.75},{"grp":"VLG","v":-0.8},{"grp":"VLG","v":-0.85},{"grp":"VLG","v":-0.9},{"grp":"VLG","v":-1.0},
{"grp":"LG","v":1.9},{"grp":"LG","v":1.5},{"grp":"LG","v":1.4},{"grp":"LG","v":1.3},{"grp":"LG","v":1.2},{"grp":"LG","v":1.1},{"grp":"LG","v":1.0},{"grp":"LG","v":0.9},{"grp":"LG","v":0.8},{"grp":"LG","v":0.7},{"grp":"LG","v":0.6},{"grp":"LG","v":0.5},{"grp":"LG","v":0.4},{"grp":"LG","v":0.3},{"grp":"LG","v":0.2},{"grp":"LG","v":0.1},{"grp":"LG","v":0.0},{"grp":"LG","v":-0.1},{"grp":"LG","v":-0.2},{"grp":"LG","v":-0.3},{"grp":"LG","v":-0.4},{"grp":"LG","v":-0.5},{"grp":"LG","v":-0.6},{"grp":"LG","v":-0.7},{"grp":"LG","v":-0.8},{"grp":"LG","v":-0.9},
{"grp":"HG","v":1.9},{"grp":"HG","v":1.1},{"grp":"HG","v":1.0},{"grp":"HG","v":0.7},{"grp":"HG","v":0.5},{"grp":"HG","v":0.3},{"grp":"HG","v":0.2},{"grp":"HG","v":0.1},{"grp":"HG","v":0.0},{"grp":"HG","v":-0.1},{"grp":"HG","v":-0.2},{"grp":"HG","v":-0.3},{"grp":"HG","v":-0.4},{"grp":"HG","v":-0.5},{"grp":"HG","v":-0.6},{"grp":"HG","v":-0.7},{"grp":"HG","v":-0.8},
{"grp":"VHG","v":6.4},{"grp":"VHG","v":4.8},{"grp":"VHG","v":4.4},{"grp":"VHG","v":3.7},{"grp":"VHG","v":3.5},{"grp":"VHG","v":2.9},{"grp":"VHG","v":2.3},{"grp":"VHG","v":2.0},{"grp":"VHG","v":1.9},{"grp":"VHG","v":1.6},{"grp":"VHG","v":1.3},{"grp":"VHG","v":1.2},{"grp":"VHG","v":0.8},{"grp":"VHG","v":0.6},{"grp":"VHG","v":0.5},{"grp":"VHG","v":0.3},{"grp":"VHG","v":0.1},{"grp":"VHG","v":0.0},{"grp":"VHG","v":-0.1},{"grp":"VHG","v":-0.2},{"grp":"VHG","v":-0.3},{"grp":"VHG","v":-0.4},{"grp":"VHG","v":-0.6},{"grp":"VHG","v":-0.7}
  ],
  "foxFStat": [
{"grp":"VLG","m":-0.71,"lo":-1.06,"hi":-0.4},{"grp":"LG","m":-0.2,"lo":-0.71,"hi":0.31},{"grp":"HG","m":-0.09,"lo":-0.69,"hi":0.51},{"grp":"VHG","m":1.17,"lo":-0.71,"hi":3.03}
  ],
  "foxFBr": [
{"a":0.37,"b":3,"t":8.51,"la":6.86,"lb":8.14,"mid":1.51,"s":"***"},
{"a":1,"b":3,"t":7.74,"la":6.14,"lb":7.37,"mid":1.97,"s":"***"},
{"a":1.92,"b":3,"t":7.14,"la":5.66,"lb":6.74,"mid":2.46,"s":"***"},
{"a":-0.05,"b":1.93,"t":4.29,"la":1.23,"lb":3.94,"mid":0.94,"s":"***"},
{"a":-0.05,"b":0.92,"t":2.86,"la":1.23,"lb":2.46,"mid":0.43,"s":"*"}
  ]
},
"bounds": "flush",
"spacing": 0,
"resolve": {"scale": {"color": "independent", "shape": "independent"}, "legend": {"color": "independent", "shape": "independent"}},
"hconcat": [
 {
  "bounds": "flush",
  "spacing": 0,
  "resolve": {"scale": {"color": "independent", "shape": "independent"}, "legend": {"color": "independent", "shape": "independent"}},
  "vconcat": [
   {
    "width": 190, "height": 26,
    "title": {"text": "A", "anchor": "start", "frame": "group", "fontSize": 18, "fontWeight": "bold", "dx": -34, "dy": 29, "baseline": "alphabetic", "offset": 4},
    "layer": [
     {"data": {"name": "volc"}, "transform": [{"filter": "datum.lp >= 40"}],
      "mark": {"type": "point", "filled": true, "size": 14, "opacity": 1},
      "encoding": {
       "x": {"field": "fc", "type": "quantitative", "scale": {"domain": [-4, 4], "nice": false}, "axis": null},
       "y": {"field": "lp", "type": "quantitative", "scale": {"domain": [45, 50], "nice": false}, "axis": {"values": [45, 50], "tickCount": 10, "format": "d", "title": null, "labelFontSize": 10.5}},
       "color": {"field": "g", "type": "nominal", "scale": {"domain": ["G", "N"], "range": ["#FB5B27", "#1BA05B"]},
        "legend": {"orient": "none", "legendX": 19, "legendY": -18, "title": null, "labelExpr": "datum.label == 'G' ? 'Up-regulated genes in Glycolytic' : 'Up-regulated genes in Non-glycolytic'", "symbolType": "circle", "symbolSize": 40, "labelFontSize": 10, "rowPadding": 3, "padding": 0, "labelOffset": 5}}
      }},
     {"data": {"name": "genes"}, "transform": [{"filter": "datum.lp >= 40"}],
      "mark": {"type": "text", "align": "left", "dx": 4, "fontSize": 8.5, "color": "black"},
      "encoding": {"x": {"field": "fc", "type": "quantitative"}, "y": {"field": "lp", "type": "quantitative"}, "text": {"field": "gene"}}}
    ]
   },
   {"width": 1, "height": 11, "data": {"values": []}, "mark": "point", "encoding": {}},
   {
    "width": 190, "height": 169,
    "layer": [
     {"data": {"name": "volc"}, "transform": [{"filter": "datum.lp < 40"}],
      "mark": {"type": "point", "filled": true, "size": 14, "opacity": 1},
      "encoding": {
       "x": {"field": "fc", "type": "quantitative", "scale": {"domain": [-4, 4], "nice": false}, "axis": {"values": [-4, -2, 0, 2, 4], "tickCount": 10, "format": "d", "labelExpr": "replace(datum.label, '\u2212', '-')", "title": "log2(Glycolytic / Non-glycolytic)", "labelFontSize": 10.5, "titleFontSize": 10.5}},
       "y": {"field": "lp", "type": "quantitative", "scale": {"domain": [0, 35], "nice": false}, "axis": {"values": [0, 10, 20, 30, 35], "tickCount": 10, "format": "d", "labelExpr": "datum.value == 35 ? '' : datum.label", "title": "-log10(adjusted p-value)", "labelFontSize": 10.5, "titleFontSize": 10.5, "titleY": 65}},
       "color": {"field": "g", "type": "nominal", "scale": {"domain": ["G", "N", "B"], "range": ["#FB5B27", "#1BA05B", "black"]}, "legend": null}
      }},
     {"data": {"name": "genes"}, "transform": [{"filter": {"field": "gene", "oneOf": ["P4HA1", "ERO1A", "HK2"]}}],
      "mark": {"type": "text", "align": "left", "dx": 4, "fontSize": 8.5, "color": "black"},
      "encoding": {"x": {"field": "fc", "type": "quantitative"}, "y": {"field": "lp", "type": "quantitative"}, "text": {"field": "gene"}}},
     {"data": {"name": "genes"}, "transform": [{"filter": {"field": "gene", "oneOf": ["ALDOA", "ENO1", "TPI1"]}}],
      "mark": {"type": "text", "align": "right", "dx": -4, "fontSize": 8.5, "color": "black"},
      "encoding": {"x": {"field": "fc", "type": "quantitative"}, "y": {"field": "lp", "type": "quantitative"}, "text": {"field": "gene"}}},
     {"data": {"name": "genes"}, "transform": [{"filter": {"field": "gene", "oneOf": ["ADM"]}}],
      "mark": {"type": "text", "align": "center", "dy": -6, "fontSize": 8.5, "color": "black"},
      "encoding": {"x": {"field": "fc", "type": "quantitative"}, "y": {"field": "lp", "type": "quantitative"}, "text": {"field": "gene"}}},
     {"data": {"name": "genes"}, "transform": [{"filter": {"field": "gene", "oneOf": ["EGLN3"]}}],
      "mark": {"type": "text", "align": "center", "dy": 8, "fontSize": 8.5, "color": "black"},
      "encoding": {"x": {"field": "fc", "type": "quantitative"}, "y": {"field": "lp", "type": "quantitative"}, "text": {"field": "gene"}}},
     {"data": {"name": "genes"}, "transform": [{"filter": {"field": "gene", "oneOf": ["SLC2A1"]}}],
      "mark": {"type": "text", "align": "left", "dx": -2, "dy": -9, "fontSize": 8.5, "color": "black"},
      "encoding": {"x": {"field": "fc", "type": "quantitative"}, "y": {"field": "lp", "type": "quantitative"}, "text": {"field": "gene"}}}
    ]
   },
   {"width": 1, "height": 77, "data": {"values": []}, "mark": "point", "encoding": {}},
   {
    "width": 300, "height": 186,
    "title": {"text": "C", "anchor": "start", "frame": "group", "fontSize": 18, "fontWeight": "bold", "dx": -36, "dy": 16, "baseline": "alphabetic", "offset": 15},
    "layer": [
     {"data": {"name": "infil"},
      "mark": {"type": "point", "filled": true, "size": 22, "opacity": 1},
      "encoding": {
       "x": {"field": "c", "type": "nominal", "scale": {"domain": ["B Cell", "CD4+ T Cell", "CD8+ T Cell", "Neutrophil", "Macrophage", "Dendritic"], "paddingInner": 0, "paddingOuter": 0}, "axis": {"title": null, "labelAngle": -45, "labelFontSize": 10.5, "tickSize": 5, "domainWidth": 1.5}},
       "xOffset": {"field": "g", "type": "nominal", "scale": {"domain": ["N", "G"], "paddingOuter": 0.25}},
       "y": {"field": "v", "type": "quantitative", "scale": {"domain": [-0.2, 1.0], "nice": false}, "axis": {"values": [-0.2, 0, 0.2, 0.4, 0.6, 0.8, 1.0], "tickCount": 20, "format": ".1f", "labelExpr": "replace(datum.label, '\u2212', '-')", "title": "Infiltration level in TCGA PDAs", "labelFontSize": 10.5, "titleFontSize": 10.5, "titlePadding": 3, "tickSize": 5, "labelPadding": 1, "domainWidth": 1.5}},
       "color": {"field": "g", "type": "nominal", "scale": {"domain": ["N", "G"], "range": ["#1BA05B", "#FB5B27"]},
        "legend": {"orient": "none", "legendX": 178, "legendY": 4, "title": null, "labelExpr": "datum.label == 'N' ? 'Non-Glycolytic' : 'Glycolytic'", "symbolSize": 45, "labelFontSize": 10.5, "padding": 0, "rowPadding": 3, "labelOffset": 5}},
       "shape": {"field": "g", "type": "nominal", "scale": {"domain": ["N", "G"], "range": ["circle", "square"]}}
      }},
     {"data": {"name": "infilStat"}, "mark": {"type": "rule", "color": "black", "strokeWidth": 1.5},
      "encoding": {"x": {"field": "c", "type": "nominal"}, "xOffset": {"field": "g", "type": "nominal"}, "y": {"field": "lo", "type": "quantitative"}, "y2": {"field": "hi"}}},
     {"data": {"name": "infilStat"}, "mark": {"type": "tick", "color": "black", "size": 16, "thickness": 2},
      "encoding": {"x": {"field": "c", "type": "nominal"}, "xOffset": {"field": "g", "type": "nominal"}, "y": {"field": "m", "type": "quantitative"}}},
     {"data": {"name": "infilStat"}, "mark": {"type": "tick", "color": "black", "size": 9, "thickness": 1.5},
      "encoding": {"x": {"field": "c", "type": "nominal"}, "xOffset": {"field": "g", "type": "nominal"}, "y": {"field": "lo", "type": "quantitative"}}},
     {"data": {"name": "infilStat"}, "mark": {"type": "tick", "color": "black", "size": 9, "thickness": 1.5},
      "encoding": {"x": {"field": "c", "type": "nominal"}, "xOffset": {"field": "g", "type": "nominal"}, "y": {"field": "hi", "type": "quantitative"}}},
     {"data": {"name": "infilBr"}, "mark": {"type": "rule", "color": "#888", "strokeWidth": 1},
      "encoding": {"x": {"field": "c", "type": "nominal"}, "xOffset": {"field": "g", "type": "nominal"}, "y": {"field": "t", "type": "quantitative"}, "y2": {"field": "b"}}},
     {"data": {"name": "infilBr"}, "transform": [{"filter": "datum.g == 'N'"}], "mark": {"type": "tick", "color": "#888", "size": 20, "thickness": 1},
      "encoding": {"x": {"field": "c", "type": "nominal"}, "y": {"field": "t", "type": "quantitative"}}},
     {"data": {"name": "infilBr"}, "transform": [{"filter": "datum.g == 'N'"}], "mark": {"type": "text", "text": "***", "color": "#888", "fontSize": 14, "baseline": "alphabetic", "dy": 2},
      "encoding": {"x": {"field": "c", "type": "nominal"}, "y": {"field": "t", "type": "quantitative"}}}
    ]
   }
  ]
 },
 {"width": 319, "height": 1, "data": {"values": []}, "mark": "point", "encoding": {}},
 {
  "bounds": "flush",
  "spacing": 0,
  "resolve": {"scale": {"color": "independent", "shape": "independent"}, "legend": {"color": "independent", "shape": "independent"}},
  "vconcat": [
   {"width": 1, "height": 22, "data": {"values": []}, "mark": "point", "encoding": {}},
   {
    "bounds": "flush",
    "spacing": 0,
    "hconcat": [
     {"width": 64, "height": 1, "data": {"values": []}, "mark": "point", "encoding": {},
      "title": {"text": "B", "anchor": "start", "frame": "group", "fontSize": 18, "fontWeight": "bold", "dx": -69, "baseline": "alphabetic", "offset": 12}},
     {
      "width": 97, "height": 158,
      "title": {"text": "Glycolytic", "fontSize": 10.5, "fontWeight": "bold", "offset": 9},
      "data": {"name": "goG"},
      "mark": {"type": "bar", "fill": "#FB5B27", "stroke": "black", "strokeWidth": 1.5},
      "encoding": {
       "y": {"field": "term", "type": "nominal", "sort": null, "scale": {"paddingInner": 0.18, "paddingOuter": 0.06}, "axis": {"title": null, "ticks": false, "labelFontSize": 9.5, "labelPadding": 4, "domainWidth": 1.2}},
       "x": {"field": "v", "type": "quantitative", "scale": {"domain": [0, 10.9], "nice": false}, "axis": {"orient": "top", "values": [0, 5, 10], "tickCount": 10, "format": "d", "title": "-log10(adj. p-value)", "domainWidth": 3, "titlePadding": 3, "labelPadding": 2}}
      }
     },
     {"width": 144, "height": 1, "data": {"values": []}, "mark": "point", "encoding": {}},
     {
      "width": 86, "height": 158,
      "title": {"text": "Non-glycolytic", "fontSize": 10.5, "fontWeight": "bold", "offset": 9},
      "data": {"name": "goN"},
      "mark": {"type": "bar", "fill": "#1BA05B", "stroke": "black", "strokeWidth": 1.5},
      "encoding": {
       "y": {"field": "term", "type": "nominal", "sort": null, "scale": {"paddingInner": 0.18, "paddingOuter": 0.06}, "axis": {"title": null, "ticks": false, "labelFontSize": 9.5, "labelPadding": 4, "domainWidth": 1.2}},
       "x": {"field": "v", "type": "quantitative", "scale": {"domain": [0, 8.6], "nice": false}, "axis": {"orient": "top", "values": [0, 2, 4, 6, 8], "tickCount": 10, "format": "d", "title": "-log10(adj. p-value)", "domainWidth": 3, "titlePadding": 3, "labelPadding": 2}}
      }
     }
    ]
   },
   {"width": 1, "height": 215, "data": {"values": []}, "mark": "point", "encoding": {}},
   {
    "width": 390, "height": 20,
    "title": {"text": "D", "anchor": "start", "frame": "group", "fontSize": 18, "fontWeight": "bold", "dx": -26, "dy": 58, "baseline": "alphabetic", "offset": 12},
    "data": {"name": "heat"},
    "mark": {"type": "rect", "stroke": "black", "strokeWidth": 1.2},
    "encoding": {
     "x": {"field": "gene", "type": "nominal", "sort": null, "scale": {"paddingInner": 0, "paddingOuter": 0},
      "axis": {"orient": "bottom", "labelAngle": -90, "ticks": false, "domain": false, "title": null, "labelFontSize": 8, "labelPadding": 2,
       "labelFontWeight": {"condition": {"test": "datum.value === 'FOXM1'", "value": "bold"}, "value": "normal"}}},
     "color": {"field": "v", "type": "quantitative", "scale": {"scheme": "redyellowgreen", "reverse": true, "domain": [-3, 3]},
      "legend": {"orient": "none", "legendX": 313, "legendY": -41, "direction": "horizontal", "title": ["log2(Glycolytic /", "Non-glycolytic)"], "titleFontSize": 10, "titleFontWeight": "normal", "titleAnchor": "middle", "titleAlign": "center", "titleLineHeight": 12, "titlePadding": 3, "gradientLength": 71, "gradientThickness": 10, "values": [-3, 3], "labelExpr": "replace(datum.label, '\u2212', '-')", "labelFontSize": 10.5, "labelBaseline": "middle", "labelOffset": -5, "labelOverlap": false, "padding": 0,
       "encode": {"labels": {"update": {"align": {"signal": "datum.value < 0 ? 'right' : 'left'"}, "dx": {"signal": "datum.value < 0 ? -3 : 3"}}}}}}
    }
   },
   {"width": 1, "height": 92, "data": {"values": []}, "mark": "point", "encoding": {}},
   {
    "bounds": "flush",
    "spacing": 0,
    "resolve": {"scale": {"color": "independent"}, "legend": {"color": "independent"}},
    "hconcat": [
     {"width": 27, "height": 1, "data": {"values": []}, "mark": "point", "encoding": {},
      "title": {"text": "E", "anchor": "start", "frame": "group", "fontSize": 18, "fontWeight": "bold", "dx": -4, "baseline": "alphabetic", "offset": -4}},
     {
      "width": 146, "height": 117,
      "title": {"text": "FOXM1 Expression", "fontSize": 10.5, "fontWeight": "bold", "offset": 14},
      "layer": [
       {"layer": [
        {"data": {"name": "foxE"}, "mark": {"type": "point", "filled": true, "size": 14, "opacity": 1},
         "encoding": {
          "x": {"field": "grp", "type": "nominal", "scale": {"domain": ["Non-glycolytic", "Glycolytic"], "paddingInner": 0.5, "paddingOuter": 0.34}, "axis": {"title": null, "labelAngle": 0, "ticks": false, "labelFontSize": 10.5, "labelPadding": 7, "domainWidth": 1.5}},
          "y": {"field": "v", "type": "quantitative", "scale": {"domain": [-2, 8], "nice": false}, "axis": {"values": [-2, 0, 2, 4, 6, 8], "tickCount": 20, "format": "d", "labelExpr": "replace(datum.label, '\u2212', '-')", "title": ["Expression in TCGA", "PDAs (Z-score)"], "labelFontSize": 11, "titleFontSize": 10.5, "titlePadding": 1, "titleLineHeight": 13, "tickSize": 4, "labelPadding": 2, "domainWidth": 1.5}},
          "color": {"field": "grp", "type": "nominal", "scale": {"domain": ["Non-glycolytic", "Glycolytic"], "range": ["#1BA05B", "#FB5B27"]}, "legend": null}
         }},
        {"data": {"name": "foxEStat"}, "mark": {"type": "rule", "color": "black", "strokeWidth": 1.5},
         "encoding": {"x": {"field": "grp", "type": "nominal"}, "y": {"field": "lo", "type": "quantitative"}, "y2": {"field": "hi"}}},
        {"data": {"name": "foxEStat"}, "mark": {"type": "tick", "color": "black", "size": 40, "thickness": 1.5},
         "encoding": {"x": {"field": "grp", "type": "nominal"}, "y": {"field": "m", "type": "quantitative"}}},
        {"data": {"name": "foxEStat"}, "mark": {"type": "tick", "color": "black", "size": 22, "thickness": 1.5},
         "encoding": {"x": {"field": "grp", "type": "nominal"}, "y": {"field": "lo", "type": "quantitative"}}},
        {"data": {"name": "foxEStat"}, "mark": {"type": "tick", "color": "black", "size": 22, "thickness": 1.5},
         "encoding": {"x": {"field": "grp", "type": "nominal"}, "y": {"field": "hi", "type": "quantitative"}}}
       ]},
       {"data": {"name": "foxEBr"}, "layer": [
        {"mark": {"type": "rule", "color": "black", "strokeWidth": 1.2},
         "encoding": {"x": {"field": "a", "type": "quantitative", "scale": {"domain": [-0.59, 1.59], "nice": false, "zero": false}, "axis": null}, "x2": {"field": "b"}, "y": {"field": "t", "type": "quantitative"}}},
        {"mark": {"type": "rule", "color": "black", "strokeWidth": 1.2},
         "encoding": {"x": {"field": "a", "type": "quantitative"}, "y": {"field": "t", "type": "quantitative"}, "y2": {"field": "la"}}},
        {"mark": {"type": "rule", "color": "black", "strokeWidth": 1.2},
         "encoding": {"x": {"field": "b", "type": "quantitative"}, "y": {"field": "t", "type": "quantitative"}, "y2": {"field": "lb"}}},
        {"mark": {"type": "text", "color": "#888", "fontSize": 14, "baseline": "alphabetic", "dy": 3},
         "encoding": {"x": {"field": "mid", "type": "quantitative"}, "y": {"field": "t", "type": "quantitative"}, "text": {"field": "s"}}}
       ]}
      ],
      "resolve": {"scale": {"x": "independent"}, "axis": {"x": "independent"}}
     },
     {"width": 48, "height": 1, "data": {"values": []}, "mark": "point", "encoding": {},
      "title": {"text": "F", "anchor": "start", "frame": "group", "fontSize": 18, "fontWeight": "bold", "dx": 8, "baseline": "alphabetic", "offset": -4}},
     {
      "width": 178, "height": 117,
      "title": {"text": "FOXM1 Expression", "fontSize": 10.5, "fontWeight": "bold", "offset": 14},
      "layer": [
       {"layer": [
        {"data": {"name": "foxF"}, "mark": {"type": "point", "filled": true, "size": 14, "opacity": 1},
         "encoding": {
          "x": {"field": "grp", "type": "nominal", "scale": {"domain": ["VLG", "LG", "HG", "VHG"], "paddingInner": 0.5, "paddingOuter": 0.136}, "axis": {"title": null, "labelAngle": 0, "ticks": false, "labelFontSize": 10.5, "labelPadding": 7, "domainWidth": 1.5}},
          "y": {"field": "v", "type": "quantitative", "scale": {"domain": [-2, 8], "nice": false}, "axis": {"values": [-2, 0, 2, 4, 6, 8], "tickCount": 20, "format": "d", "labelExpr": "replace(datum.label, '\u2212', '-')", "title": ["Expression in TCGA", "PDAs (Z-score)"], "labelFontSize": 11, "titleFontSize": 10.5, "titlePadding": 1, "titleLineHeight": 13, "tickSize": 4, "labelPadding": 2, "domainWidth": 1.5}},
          "color": {"field": "grp", "type": "nominal", "scale": {"domain": ["VLG", "LG", "HG", "VHG"], "range": ["#1C9B47", "#92DB8A", "#F8AC60", "#E5640F"]}, "legend": null}
         }},
        {"data": {"name": "foxFStat"}, "mark": {"type": "rule", "color": "black", "strokeWidth": 1.5},
         "encoding": {"x": {"field": "grp", "type": "nominal"}, "y": {"field": "lo", "type": "quantitative"}, "y2": {"field": "hi"}}},
        {"data": {"name": "foxFStat"}, "mark": {"type": "tick", "color": "black", "size": 32, "thickness": 1.5},
         "encoding": {"x": {"field": "grp", "type": "nominal"}, "y": {"field": "m", "type": "quantitative"}}},
        {"data": {"name": "foxFStat"}, "mark": {"type": "tick", "color": "black", "size": 20, "thickness": 1.5},
         "encoding": {"x": {"field": "grp", "type": "nominal"}, "y": {"field": "lo", "type": "quantitative"}}},
        {"data": {"name": "foxFStat"}, "mark": {"type": "tick", "color": "black", "size": 20, "thickness": 1.5},
         "encoding": {"x": {"field": "grp", "type": "nominal"}, "y": {"field": "hi", "type": "quantitative"}}}
       ]},
       {"data": {"name": "foxFBr"}, "layer": [
        {"mark": {"type": "rule", "color": "black", "strokeWidth": 1.2},
         "encoding": {"x": {"field": "a", "type": "quantitative", "scale": {"domain": [-0.396, 3.375], "nice": false, "zero": false}, "axis": null}, "x2": {"field": "b"}, "y": {"field": "t", "type": "quantitative"}}},
        {"mark": {"type": "rule", "color": "black", "strokeWidth": 1.2},
         "encoding": {"x": {"field": "a", "type": "quantitative"}, "y": {"field": "t", "type": "quantitative"}, "y2": {"field": "la"}}},
        {"mark": {"type": "rule", "color": "black", "strokeWidth": 1.2},
         "encoding": {"x": {"field": "b", "type": "quantitative"}, "y": {"field": "t", "type": "quantitative"}, "y2": {"field": "lb"}}},
        {"mark": {"type": "text", "color": "#888", "fontSize": 14, "baseline": "alphabetic", "dy": 3},
         "encoding": {"x": {"field": "mid", "type": "quantitative"}, "y": {"field": "t", "type": "quantitative"}, "text": {"field": "s"}}}
       ]}
      ],
      "resolve": {"scale": {"x": "independent"}, "axis": {"x": "independent"}}
     }
    ]
   }
  ]
 }
]
}
